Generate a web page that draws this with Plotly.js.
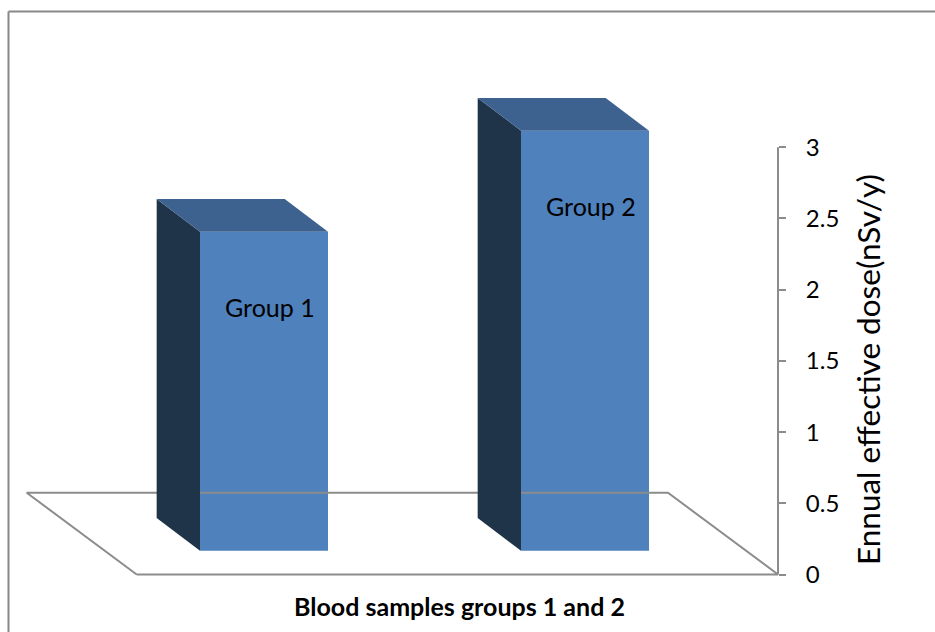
<!DOCTYPE html>
<html>
<head>
<meta charset="utf-8">
<script src="https://cdn.plot.ly/plotly-3.0.1.min.js"></script>
<style>html,body{margin:0;padding:0;background:#fff;}#chart{width:935px;height:632px;}</style>
</head>
<body>
<div id="chart"></div>
<script>
// ---- data ----
const categories = ["Group 1", "Group 2"];
const doseValues = [2.24, 2.95];
const tickValues = [0, 0.5, 1, 1.5, 2, 2.5, 3];
const tickLabels = ["0", "0.5", "1", "1.5", "2", "2.5", "3"];
const yTitle = "Ennual effective dose(nSv/y)";
const xTitle = "Blood samples groups 1 and 2";

// ---- pseudo-3D geometry (axis units) ----
const FONT = "Lato, 'Open Sans', sans-serif";
const halfW = 0.1994;      // half width of bar front face
const depthX = -0.135;     // bar depth offset (x)
const depthY = 0.2296;     // bar depth offset (y)
const barBase = 0.167;     // front-face base above floor front edge
const floorDX = -0.3427, floorDY = 0.5744;
const floorL = -0.3966, floorR = 1.6012;
const xRange = [-0.7944, 1.6012];
const yRange = [-0.179, 3.950];

const C_FRONT = "#4F81BD", C_SIDE = "#1F3349", C_TOP = "#3D6290";

const W = 935, H = 632, mL = 9, mR = 157, mT = 12, mB = 32;
const px2paperX = p => (p - mL) / (W - mL - mR);
const px2paperY = p => (H - mB - p) / (H - mT - mB);

const traces = [];
// floor outline
traces.push({
  type: "scatter", mode: "lines", hoverinfo: "skip", showlegend: false,
  x: [floorL, floorR, floorR + floorDX, floorL + floorDX, floorL],
  y: [0, 0, floorDY, floorDY, 0],
  line: {color: "#8C8C8C", width: 2}
});
// side and top faces
categories.forEach((c, i) => {
  const xl = i - halfW, xr = i + halfW;
  const yb = barBase, yt = barBase + doseValues[i];
  traces.push({
    type: "scatter", mode: "lines", fill: "toself", hoverinfo: "skip", showlegend: false,
    x: [xl, xl + depthX, xl + depthX, xl, xl],
    y: [yb, yb + depthY, yt + depthY, yt, yb],
    fillcolor: C_SIDE, line: {width: 0, color: C_SIDE}
  });
  traces.push({
    type: "scatter", mode: "lines", fill: "toself", hoverinfo: "skip", showlegend: false,
    x: [xl, xl + depthX, xr + depthX, xr, xl],
    y: [yt, yt + depthY, yt + depthY, yt, yt],
    fillcolor: C_TOP, line: {width: 0, color: C_TOP}
  });
});
// front faces
traces.push({
  type: "bar", showlegend: false,
  x: categories.map((c, i) => i),
  y: doseValues,
  base: doseValues.map(() => barBase),
  width: halfW * 2,
  marker: {color: C_FRONT, line: {width: 0}},
  hovertext: categories, hoverinfo: "text+y"
});

const annotations = categories.map((c, i) => ({
  x: i + 0.02, y: barBase + doseValues[i] - 0.53, xref: "x", yref: "y",
  xanchor: "center", yanchor: "middle",
  text: c, showarrow: false, font: {family: FONT, size: 25, color: "#000"}
}));
// x axis title
annotations.push({
  x: px2paperX(459), y: px2paperY(606), xref: "paper", yref: "paper",
  xanchor: "center", yanchor: "middle",
  text: "<b>" + xTitle + "</b>", showarrow: false,
  font: {family: FONT, size: 25, color: "#000"}
});
// y axis title
annotations.push({
  x: px2paperX(868), y: px2paperY(370), xref: "paper", yref: "paper",
  xanchor: "center", yanchor: "middle", textangle: -90,
  text: yTitle, showarrow: false,
  font: {family: FONT, size: 31.5, color: "#000"}
});

const shapes = [
  // y axis line from 0 to 3
  {type: "line", xref: "paper", yref: "y", x0: 1, x1: 1, y0: 0, y1: 3,
   line: {color: "#8C8C8C", width: 2}},
  // outer border (left and top)
  {type: "line", xref: "paper", yref: "paper",
   x0: px2paperX(8.5), x1: px2paperX(8.5), y0: px2paperY(11.5), y1: -1,
   line: {color: "#888888", width: 2}},
  {type: "line", xref: "paper", yref: "paper",
   x0: px2paperX(8.5), x1: 2, y0: px2paperY(11.5), y1: px2paperY(11.5),
   line: {color: "#888888", width: 2}}
];

const layout = {
  width: W, height: H,
  margin: {l: mL, r: mR, t: mT, b: mB},
  paper_bgcolor: "#fff", plot_bgcolor: "rgba(0,0,0,0)",
  showlegend: false,
  xaxis: {range: xRange, visible: false, fixedrange: true},
  yaxis: {
    side: "right", range: yRange, tickvals: tickValues, ticktext: tickLabels,
    ticks: "outside", ticklen: 7, tickwidth: 2, tickcolor: "#8C8C8C",
    showgrid: false, zeroline: false, showline: false,
    ticklabelstandoff: 15,
    tickfont: {family: FONT, size: 24, color: "#000"},
    automargin: false, fixedrange: true
  },
  shapes: shapes,
  annotations: annotations,
  font: {family: FONT}
};

Plotly.newPlot("chart", traces, layout, {displayModeBar: false, staticPlot: true});
</script>
</body>
</html>
